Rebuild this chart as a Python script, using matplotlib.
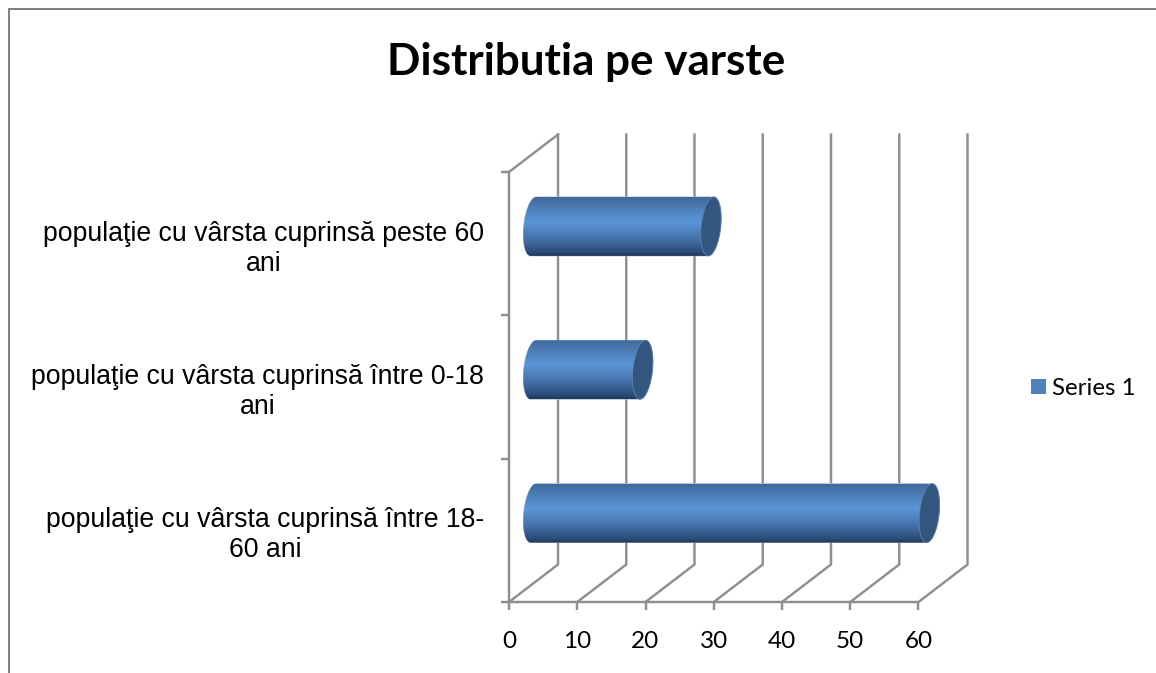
import numpy as np
import matplotlib
matplotlib.use('Agg')
import matplotlib.pyplot as plt
from matplotlib.colors import LinearSegmentedColormap
from matplotlib.lines import Line2D
from matplotlib.patches import Patch, PathPatch
from matplotlib.path import Path

# Datele graficului (de jos in sus)
categories = ['populaţie cu vârsta cuprinsă între 18-\n60 ani',
              'populaţie cu vârsta cuprinsă între 0-18\nani',
              'populaţie cu vârsta cuprinsă peste 60\nani']
values = [58, 16, 26]
x_ticks = [0, 10, 20, 30, 40, 50, 60]
title = 'Distributia pe varste'
series_name = 'Series 1'

W, H = 1156, 673
grid_color = '#8f8f8f'
frame_color = '#828282'
lw_axis = 1.75

fig = plt.figure(figsize=(W / 100, H / 100), dpi=100)
ax = fig.add_axes([509 / W, 1 - 602 / H, 409.5 / W, 430 / H])
ax.set_xlim(0, 60)
ax.set_ylim(0, 3)

# pixeli -> unitati de date
ux = 60 / 409.5
uy = 3 / 430
dx = 49 * ux  # adancimea 3D
dy = 37.5 * uy

# Peretii din spate
for k in x_ticks:
    ax.plot([k, k + dx, k + dx], [0, dy, 3 + dy], color=grid_color, lw=lw_axis,
            clip_on=False, zorder=1, solid_joinstyle='miter')
ax.plot([0, dx], [3, 3 + dy], color=grid_color, lw=lw_axis, clip_on=False, zorder=1)

# Cilindrii
cmap = LinearSegmentedColormap.from_list('cyl', [(0, '#41699b'), (0.12, '#4877ae'), (0.42, '#5b96da'),
                                                 (0.72, '#436fa6'), (0.93, '#2c4d78'), (1, '#20395a')])
a = 9.8 * ux
h = 29.5 * uy
s = 2.8 * ux


def ellipse(cx, cy, t):
    return np.column_stack([cx + a * np.cos(t) + s * np.sin(t), cy + h * np.sin(t)])


for i, v in enumerate(values):
    cy = i + 0.5 + dy / 2 - 1.5 * uy
    x0 = dx / 2
    x1 = dx / 2 + v
    left = ellipse(x0, cy, np.linspace(np.pi / 2, 3 * np.pi / 2, 40))
    right = ellipse(x1, cy, np.linspace(-np.pi / 2, np.pi / 2, 40))
    body = PathPatch(Path(np.vstack([left, right, left[:1]])), facecolor='none',
                     edgecolor='#a9bdd6', lw=0.6, clip_on=False, zorder=3)
    ax.add_patch(body)
    im = ax.imshow(np.linspace(0, 1, 120)[:, None], extent=[x0 - 2 * a, x1 + 2 * a, cy - h, cy + h],
                   cmap=cmap, aspect='auto', origin='upper', zorder=3)
    im.set_clip_box(fig.bbox)
    im.set_clip_path(body)
    cap = ellipse(x1, cy, np.linspace(0, 2 * np.pi, 80))
    ax.add_patch(PathPatch(Path(cap), facecolor='#33567f', edgecolor='#5f83ad', lw=0.6,
                           clip_on=False, zorder=4))
ax.set_xlim(0, 60)
ax.set_ylim(0, 3)

# Axe
for side in ['top', 'right']:
    ax.spines[side].set_visible(False)
for side in ['left', 'bottom']:
    ax.spines[side].set_color(grid_color)
    ax.spines[side].set_linewidth(lw_axis)
ax.patch.set_visible(False)
ax.set_xticks(x_ticks)
ax.set_yticks([0, 1, 2, 3])
ax.set_yticklabels([])
ax.set_yticks([0.5, 1.5, 2.5], minor=True)
ax.set_yticklabels(categories, minor=True, family='Liberation Sans', fontsize=19.2,
                   multialignment='center', color='black', linespacing=1.2)
ax.tick_params(axis='both', which='major', length=5.8, width=lw_axis, color=grid_color)
ax.tick_params(axis='y', which='minor', length=0, pad=18)
ax.tick_params(axis='x', labelsize=17.5, pad=15, labelcolor='black')
for lab in ax.get_xticklabels():
    lab.set_family('Lato')

fig.text(586 / W, 1 - 62 / H, title, family='Lato', fontweight='bold', fontsize=31.7,
         ha='center', va='center', color='black')

ax.legend(handles=[Patch(facecolor='#4f81bd', label=series_name)], loc='center left',
          bbox_to_anchor=(1024 / W, 1 - 388.5 / H), bbox_transform=fig.transFigure,
          frameon=False, prop={'family': 'Lato', 'size': 17.4}, handlelength=0.62,
          handleheight=0.62, handletextpad=0.25, borderpad=0, borderaxespad=0.3)

# Chenarul graficului
fig.add_artist(Line2D([9 / W, 9 / W, 1], [0, 1 - 9 / H, 1 - 9 / H], color=frame_color, lw=1.45,
                      solid_joinstyle='miter'))

fig.savefig('out.png', dpi=100)
